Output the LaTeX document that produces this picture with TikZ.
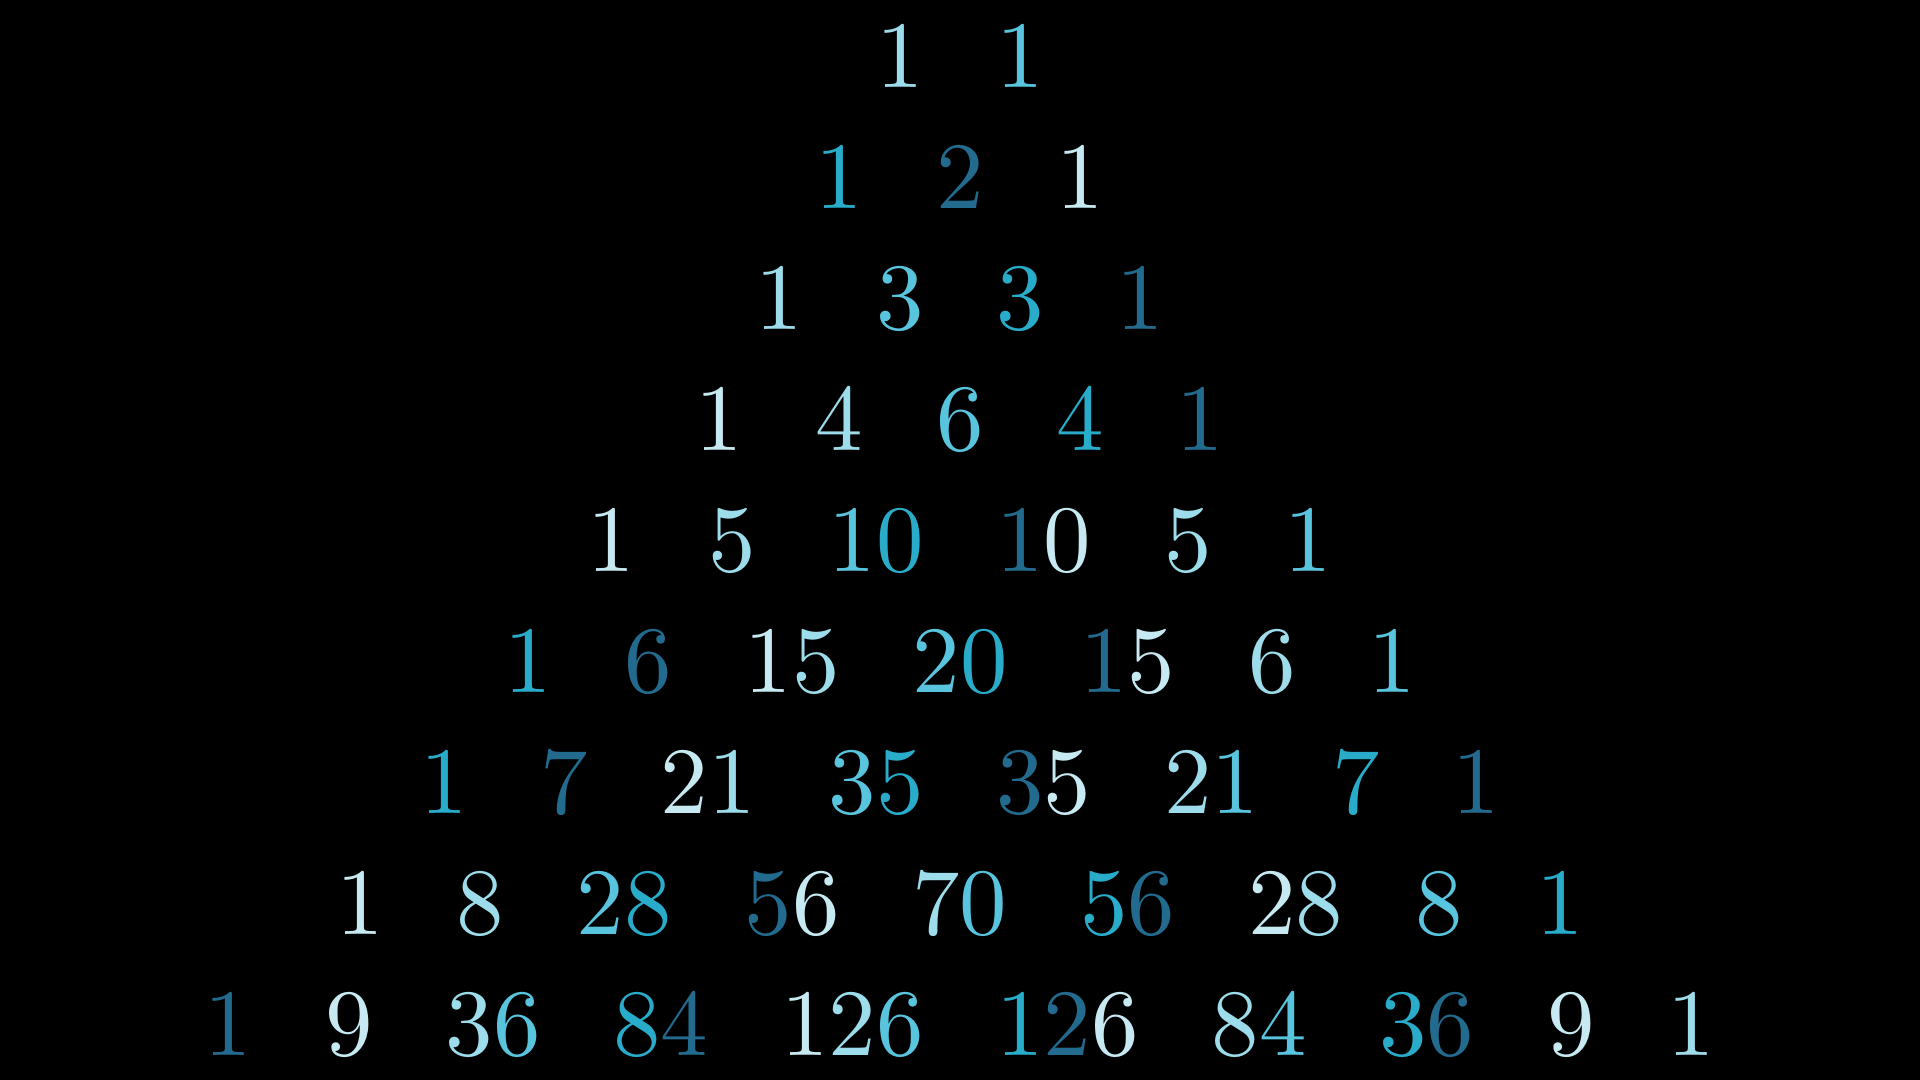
\documentclass[tikz,border=0pt]{standalone}
\usepackage{xcolor}
\usepackage{tikz}
\definecolor{blueA}{HTML}{C7E9F1}
\definecolor{blueB}{HTML}{9CDCEB}
\definecolor{blueC}{HTML}{58C4DD}
\definecolor{blueD}{HTML}{29ABCA}
\definecolor{blueE}{HTML}{236B8E}
% digit shades run through A..E, one step per digit
\newcount\shadeidx
\global\shadeidx=1
\newcommand{\dig}[1]{{\ifcase\shadeidx\color{blueA}\or\color{blueB}\or\color{blueC}\or\color{blueD}\or\color{blueE}\fi#1}%
  \global\advance\shadeidx 1 \ifnum\shadeidx=5 \global\shadeidx=0 \fi}
\def\pnloop#1{\ifx#1\relax\else\dig{#1}\expandafter\pnloop\fi}
\newcommand{\pn}[1]{\pnloop#1\relax}
\newcommand{\gap}{\hspace{0.27cm}}
\newcommand{\rowof}[1]{\scalebox{2.7}{#1}}

\begin{document}
\begin{tikzpicture}[
  prow/.style={anchor=base,inner sep=0pt,text=white}]
\fill[black] (-9.6,0) rectangle (9.6,10.8);
\useasboundingbox (-9.6,0) rectangle (9.6,10.8);
\node[prow] (r1) at (0,9.92) {\rowof{\pn{1}\gap\pn{1}}};
\node[prow] (r2) at (0,8.71) {\rowof{\pn{1}\gap\pn{2}\gap\pn{1}}};
\node[prow] (r3) at (0,7.50) {\rowof{\pn{1}\gap\pn{3}\gap\pn{3}\gap\pn{1}}};
\node[prow] (r4) at (0,6.29) {\rowof{\pn{1}\gap\pn{4}\gap\pn{6}\gap\pn{4}\gap\pn{1}}};
\node[prow] (r5) at (0,5.08) {\rowof{\pn{1}\gap\pn{5}\gap\pn{10}\gap\pn{10}\gap\pn{5}\gap\pn{1}}};
\node[prow] (r6) at (0,3.87) {\rowof{\pn{1}\gap\pn{6}\gap\pn{15}\gap\pn{20}\gap\pn{15}\gap\pn{6}\gap\pn{1}}};
\node[prow] (r7) at (0,2.66) {\rowof{\pn{1}\gap\pn{7}\gap\pn{21}\gap\pn{35}\gap\pn{35}\gap\pn{21}\gap\pn{7}\gap\pn{1}}};
\node[prow] (r8) at (0,1.45) {\rowof{\pn{1}\gap\pn{8}\gap\pn{28}\gap\pn{56}\gap\pn{70}\gap\pn{56}\gap\pn{28}\gap\pn{8}\gap\pn{1}}};
\node[prow] (r9) at (0,0.24) {\rowof{\pn{1}\gap\pn{9}\gap\pn{36}\gap\pn{84}\gap\pn{126}\gap\pn{126}\gap\pn{84}\gap\pn{36}\gap\pn{9}\gap\pn{1}}};
\end{tikzpicture}
\end{document}
